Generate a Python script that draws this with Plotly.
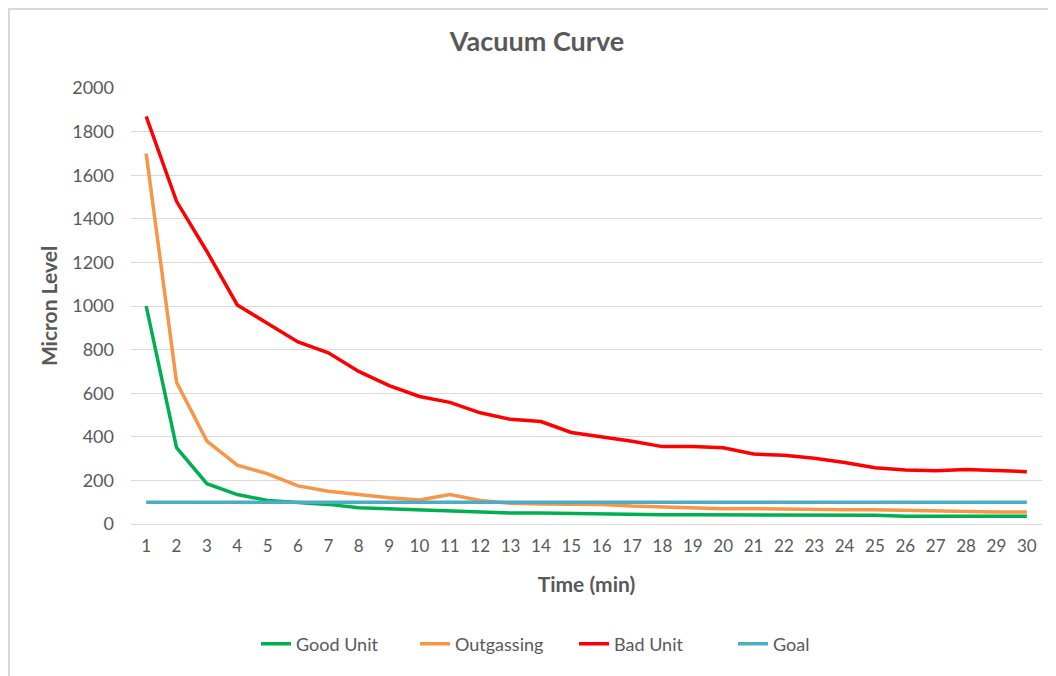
import plotly.graph_objects as go

time_min = list(range(1, 31))
good_unit = [1000, 350, 185, 135, 108, 100, 90, 75, 70, 62, 57, 55, 50, 50, 47, 47, 42, 42, 42, 42, 42, 42, 42, 42, 40, 36, 36, 36, 36, 35]
outgassing = [1700, 650, 380, 270, 230, 175, 150, 135, 120, 110, 135, 108, 95, 92, 90, 90, 82, 78, 75, 70, 70, 68, 65, 65, 65, 62, 58, 55, 55, 55]
bad_unit = [1870, 1480, 1250, 1005, 920, 835, 785, 700, 635, 585, 558, 510, 480, 470, 420, 400, 380, 355, 355, 350, 321, 315, 302, 282, 258, 248, 244, 250, 245, 240]
goal = [100] * 30

series = [
    ("Good Unit", good_unit, "#00B050"),
    ("Outgassing", outgassing, "#F79646"),
    ("Bad Unit", bad_unit, "#FF0000"),
    ("Goal", goal, "#4BACC6"),
]

OFF = 8  # page body margin
W, H = 1048, 668
ml, mt = 131 - OFF, 88 - OFF
pr, pb = 1042 - OFF, 524 - OFF
mr, mb = W - pr, H - pb
pw, ph = pr - ml, pb - mt

FONT = "Lato, 'Open Sans', sans-serif"
GREY = "#595959"

fig = go.Figure()
for name, vals, color in series:
    fig.add_trace(go.Scatter(
        x=[str(t) for t in time_min], y=vals, name=name, mode="lines",
        line=dict(color=color, width=3.5),
    ))

def px_x(p):
    return (p - OFF - ml) / pw

def px_y(p):
    return 1 - (p - OFF - mt) / ph

fig.update_layout(
    width=W, height=H,
    margin=dict(l=ml, r=mr, t=mt, b=mb),
    paper_bgcolor="white", plot_bgcolor="white",
    font=dict(family=FONT, color=GREY, size=17),
    title=dict(text="<b>Vacuum Curve</b>", x=(537 - OFF) / W, xanchor="center",
               y=1 - (42 - OFF) / H, yanchor="middle",
               font=dict(size=27, color=GREY, family=FONT)),
    xaxis=dict(
        type="category", range=[-0.5, 29.5],
        showgrid=False, showline=False, zeroline=False,
        tickfont=dict(size=17, color=GREY), ticks="", ticklabelstandoff=10,
        title=dict(text="<b>Time (min)</b>", font=dict(size=21, color=GREY), standoff=22),
    ),
    yaxis=dict(
        range=[0, 2000], dtick=200, tick0=0,
        showgrid=True, gridcolor="#D9D9D9", gridwidth=1,
        zeroline=True, zerolinecolor="#D9D9D9", zerolinewidth=1,
        showline=False, ticks="",
        tickfont=dict(size=18, color=GREY), ticklabelstandoff=16,
        title=dict(text="<b>Micron Level</b>", font=dict(size=21, color=GREY), standoff=8),
    ),
    legend=dict(
        orientation="h", xref="container", yref="container",
        x=(256 - OFF) / W, xanchor="left",
        y=1 - (644 - OFF) / H, yanchor="middle",
        font=dict(size=18, color=GREY),
        entrywidth=114, entrywidthmode="pixels",
        traceorder="normal",
    ),
    shapes=[
        dict(type="line", xref="paper", yref="paper",
             x0=px_x(8), x1=px_x(1060), y0=px_y(9), y1=px_y(9),
             line=dict(color="#D9D9D9", width=2)),
        dict(type="line", xref="paper", yref="paper",
             x0=px_x(9), x1=px_x(9), y0=px_y(8), y1=px_y(680),
             line=dict(color="#D9D9D9", width=2)),
    ],
)

fig.write_html("out.html")
